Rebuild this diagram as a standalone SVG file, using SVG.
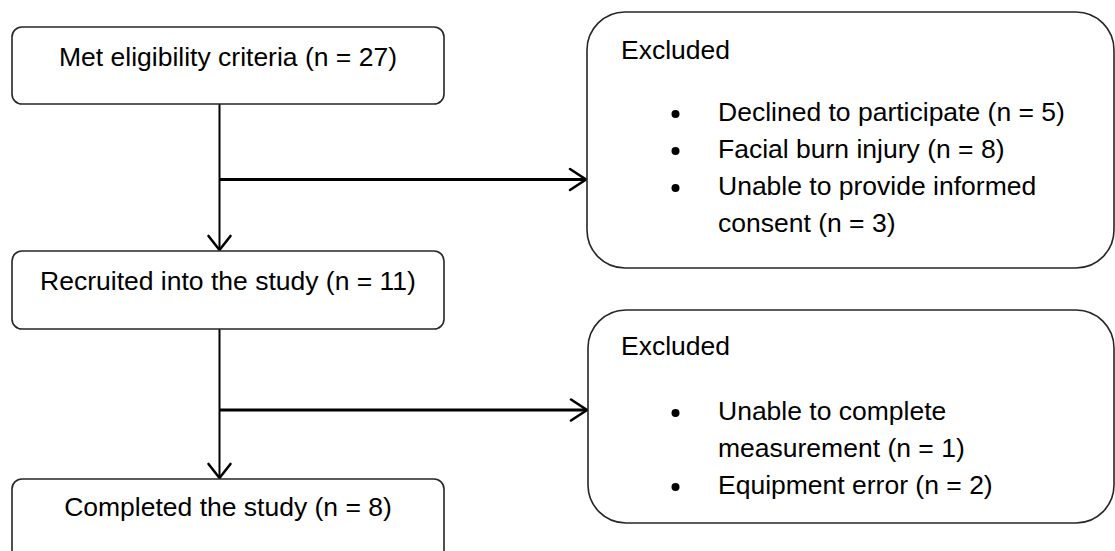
<svg xmlns="http://www.w3.org/2000/svg" width="1115" height="551" viewBox="0 0 1115 551">
<style>
.box{fill:#fff;stroke:#262626;stroke-width:1.6}
.t{font-family:"Liberation Sans",Arial,sans-serif;font-size:26.5px;fill:#000}
.c{text-anchor:middle}
.v{stroke:#000;stroke-width:2;fill:none}
.h{stroke:#000;stroke-width:3.2;fill:none}
.ah{stroke:#000;stroke-width:2.6;fill:none;stroke-linecap:round;stroke-linejoin:miter}
</style>
<rect width="1115" height="551" fill="#fff"/>
<g id="connectors">
<line class="v" x1="219.5" y1="104" x2="219.5" y2="250"/>
<polyline class="ah" points="208.5,236 219.5,250 230.5,236"/>
<line class="h" x1="219.5" y1="179.5" x2="585" y2="179.5"/>
<polyline class="ah" points="570,169 586,179.5 570,190"/>
<line class="v" x1="219.5" y1="329" x2="219.5" y2="478"/>
<polyline class="ah" points="208.5,464 219.5,478 230.5,464"/>
<line class="h" x1="219.5" y1="410" x2="586" y2="410"/>
<polyline class="ah" points="571,399.5 587,410 571,420.5"/>
</g>
<g id="n1">
<rect class="box" x="12" y="27" width="432" height="77" rx="10"/>
<text class="t c" x="228" y="66">Met eligibility criteria (n = 27)</text>
</g>
<g id="n2">
<rect class="box" x="12" y="251" width="432" height="78" rx="10"/>
<text class="t c" x="228" y="290">Recruited into the study (n = 11)</text>
</g>
<g id="n3">
<rect class="box" x="12" y="479" width="432" height="90" rx="10"/>
<text class="t c" x="228" y="516">Completed the study (n = 8)</text>
</g>
<g id="e1">
<rect class="box" x="587" y="12" width="527" height="256" rx="38"/>
<text class="t" x="621" y="59">Excluded</text>
<g class="t">
<circle cx="675.5" cy="114" r="4"/><text class="t" x="718" y="121">Declined to participate (n = 5)</text>
<circle cx="675.5" cy="151" r="4"/><text class="t" x="718" y="158">Facial burn injury (n = 8)</text>
<circle cx="675.5" cy="188" r="4"/><text class="t" x="718" y="195">Unable to provide informed</text>
<text class="t" x="718" y="232">consent (n = 3)</text>
</g>
</g>
<g id="e2">
<rect class="box" x="588" y="310" width="526" height="213" rx="38"/>
<text class="t" x="621" y="355">Excluded</text>
<g class="t">
<circle cx="675.5" cy="413" r="4"/><text class="t" x="718" y="420">Unable to complete</text>
<text class="t" x="718" y="457">measurement (n = 1)</text>
<circle cx="675.5" cy="487" r="4"/><text class="t" x="718" y="494">Equipment error (n = 2)</text>
</g>
</g>
</svg>
